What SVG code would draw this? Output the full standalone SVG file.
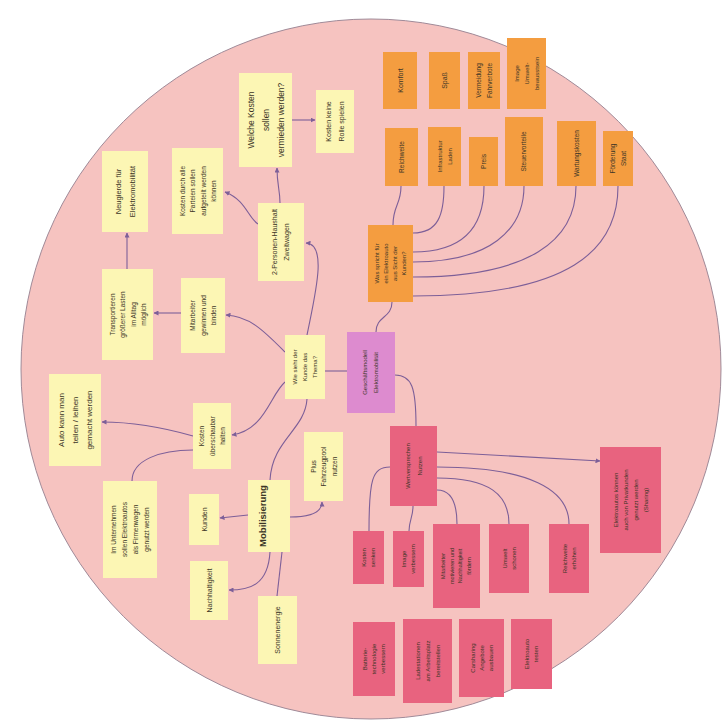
<svg xmlns="http://www.w3.org/2000/svg" width="722" height="728" viewBox="0 0 722 728">
<defs>
<style>
.y{fill:#fcf6b4}
.o{fill:#f49d40}
.p{fill:#dd8bcf}
.r{fill:#e8637f}
.t{font-family:"Liberation Sans",Arial,sans-serif;font-size:6.5px;fill:#3b3526;text-anchor:middle}
.c{fill:none;stroke:#7d5f98;stroke-width:1.1}
.a{marker-end:url(#arr)}
</style>
<marker id="arr" viewBox="0 0 10 10" refX="9" refY="5" markerWidth="5" markerHeight="5" markerUnits="userSpaceOnUse" orient="auto">
<path d="M0,0 L10,5 L0,10 z" fill="#7d5f98"/>
</marker>
</defs>
<rect x="0" y="0" width="722" height="728" fill="#ffffff"/>
<circle cx="371" cy="369" r="350" fill="#f6c3c0" stroke="#a08a98" stroke-width="1"/>

<g id="connectors">
<path class="c" d="M393,225 C393,205 401,205 401,186"/>
<path class="c" d="M413,233 C438,233 444,215 444,186"/>
<path class="c" d="M413,252 C465,252 484,225 484,186"/>
<path class="c" d="M413,262 C490,262 524,230 524,186"/>
<path class="c" d="M413,277 C530,277 576,240 576,186"/>
<path class="c" d="M413,296 C570,296 618,250 618,186"/>
<path class="c" d="M325,371 L347,371"/>
<path class="c" d="M376,332 C376,316 392,318 392,302"/>
<path class="c" d="M395,375 C412,375 416,388 416,426"/>
<path class="c a" d="M437,452 L600,461"/>
<path class="c" d="M437,467 C530,467 569,490 569,524"/>
<path class="c" d="M437,478 C490,478 509,495 509,524"/>
<path class="c" d="M437,490 C452,490 457,505 457,524"/>
<path class="c" d="M390,467 C372,467 369,480 369,531"/>
<path class="c" d="M413,506 C413,518 409,520 409,531"/>
<path class="c a" d="M292,120 L315,120"/>
<path class="c a" d="M280,203 C280,190 277,185 277,168"/>
<path class="c a" d="M258,224 C248,218 246,200 225,192"/>
<path class="c a" d="M307,335 C315,295 328,244 306,243"/>
<path class="c a" d="M285,352 C265,332 250,316 226,315"/>
<path class="c a" d="M181,313 L154,313"/>
<path class="c a" d="M127,269 L127,233"/>
<path class="c a" d="M285,382 C270,395 265,430 232,435"/>
<path class="c a" d="M193,436 C165,428 130,422 102,422"/>
<path class="c" d="M193,450 C160,450 132,460 132,481"/>
<path class="c" d="M307,399 C305,430 272,440 270,480"/>
<path class="c a" d="M248,515 L220,518"/>
<path class="c a" d="M290,517 C310,517 322,512 322,502"/>
<path class="c a" d="M270,552 C268,585 250,590 229,590"/>
<path class="c" d="M282,552 L277,596"/>
</g>

<g id="y1"><rect class="y" x="239" y="73" width="53" height="94"/>
<text class="t" style="font-size:8.5px" transform="translate(265.5,120) rotate(-90)"><tspan x="0" y="-12">Welche Kosten</tspan><tspan x="0" y="3">sollen</tspan><tspan x="0" y="18">vermieden werden?</tspan></text></g>
<g id="y2"><rect class="y" x="316" y="90" width="38" height="63"/>
<text class="t" style="font-size:7px" transform="translate(335,121.5) rotate(-90)"><tspan x="0" y="-4">Kosten keine</tspan><tspan x="0" y="9">Rolle spielen</tspan></text></g>
<g id="y3"><rect class="y" x="102" y="151" width="46" height="81"/>
<text class="t" style="font-size:7.5px" transform="translate(125,191.5) rotate(-90)"><tspan x="0" y="-4.5">Neugierde für</tspan><tspan x="0" y="9.5">Elektromobilität</tspan></text></g>
<g id="y4"><rect class="y" x="172" y="148" width="51" height="86"/>
<text class="t" transform="translate(197.5,191) rotate(-90)"><tspan x="0" y="-13">Kosten durch alle</tspan><tspan x="0" y="-2.5">Parteien sollen</tspan><tspan x="0" y="8">aufgeteilt werden</tspan><tspan x="0" y="18.5">können</tspan></text></g>
<g id="y5"><rect class="y" x="258" y="203" width="46" height="78"/>
<text class="t" style="font-size:7px" transform="translate(281,242) rotate(-90)"><tspan x="0" y="-4">2-Personen-Haushalt</tspan><tspan x="0" y="8">Zweitwagen</tspan></text></g>
<g id="y6"><rect class="y" x="102" y="269" width="51" height="91"/>
<text class="t" transform="translate(127.5,314.5) rotate(-90)"><tspan x="0" y="-13">Transportieren</tspan><tspan x="0" y="-2.5">größerer Lasten</tspan><tspan x="0" y="8">im Alltag</tspan><tspan x="0" y="18.5">möglich</tspan></text></g>
<g id="y7"><rect class="y" x="181" y="278" width="44" height="75"/>
<text class="t" transform="translate(203,315.5) rotate(-90)"><tspan x="0" y="-8">Mitarbeiter</tspan><tspan x="0" y="2.5">gewinnen und</tspan><tspan x="0" y="13">binden</tspan></text></g>
<g id="y8"><rect class="y" x="285" y="335" width="40" height="64"/>
<text class="t" style="font-size:6px" transform="translate(305,367) rotate(-90)"><tspan x="0" y="-8">Wie sieht der</tspan><tspan x="0" y="2">Kunde das</tspan><tspan x="0" y="12">Thema?</tspan></text></g>
<g id="y9"><rect class="y" x="49" y="374" width="52" height="92"/>
<text class="t" style="font-size:8px" transform="translate(75,420) rotate(-90)"><tspan x="0" y="-11">Auto kann man</tspan><tspan x="0" y="3">teilen / leihen</tspan><tspan x="0" y="17">gemacht werden</tspan></text></g>
<g id="y10"><rect class="y" x="193" y="403" width="38" height="66"/>
<text class="t" transform="translate(212,436) rotate(-90)"><tspan x="0" y="-8">Kosten</tspan><tspan x="0" y="2.5">überschaubar</tspan><tspan x="0" y="13">halten</tspan></text></g>
<g id="y11"><rect class="y" x="103" y="481" width="54" height="97"/>
<text class="t" transform="translate(130,529.5) rotate(-90)"><tspan x="0" y="-14">Im Unternehmen</tspan><tspan x="0" y="-3">sollen Elektroautos</tspan><tspan x="0" y="8">als Firmenwagen</tspan><tspan x="0" y="19">genutzt werden</tspan></text></g>
<g id="y12"><rect class="y" x="189" y="494" width="30" height="51"/>
<text class="t" style="font-size:7px" transform="translate(204,519.5) rotate(-90)"><tspan x="0" y="2.5">Kunden</tspan></text></g>
<g id="y13"><rect class="y" x="248" y="480" width="42" height="72"/>
<text class="t" style="font-size:9.5px;font-weight:bold" transform="translate(269,516) rotate(-90)"><tspan x="0" y="-3">Mobilisierung</tspan></text></g>
<g id="y14"><rect class="y" x="304" y="432" width="39" height="69"/>
<text class="t" transform="translate(323.5,466.5) rotate(-90)"><tspan x="0" y="-8">Plus</tspan><tspan x="0" y="2.5">Fahrzeugpool</tspan><tspan x="0" y="13">nutzen</tspan></text></g>
<g id="y15"><rect class="y" x="190" y="561" width="38" height="59"/>
<text class="t" style="font-size:7px" transform="translate(209,590.5) rotate(-90)"><tspan x="0" y="2.5">Nachhaltigkeit</tspan></text></g>
<g id="y16"><rect class="y" x="258" y="596" width="39" height="68"/>
<text class="t" style="font-size:7px" transform="translate(277.5,630) rotate(-90)"><tspan x="0" y="2.5">Sonnenenergie</tspan></text></g>

<g id="o1"><rect class="o" x="383" y="52" width="34" height="57"/>
<text class="t" style="font-size:7px" transform="translate(400,80.5) rotate(-90)"><tspan x="0" y="2.5">Komfort</tspan></text></g>
<g id="o2"><rect class="o" x="429" y="52" width="31" height="57"/>
<text class="t" style="font-size:7px" transform="translate(444.5,80.5) rotate(-90)"><tspan x="0" y="2.5">Spaß</tspan></text></g>
<g id="o3"><rect class="o" x="468" y="52" width="32" height="57"/>
<text class="t" transform="translate(484,80.5) rotate(-90)"><tspan x="0" y="-3">Vermeidung</tspan><tspan x="0" y="8">Fahrverbote</tspan></text></g>
<g id="o4"><rect class="o" x="507" y="38" width="39" height="71"/>
<text class="t" style="font-size:6px" transform="translate(526.5,73.5) rotate(-90)"><tspan x="0" y="-8">Image</tspan><tspan x="0" y="2">Umwelt-</tspan><tspan x="0" y="12">bewusstsein</tspan></text></g>
<g id="o5"><rect class="o" x="385" y="128" width="33" height="58"/>
<text class="t" transform="translate(401.5,157) rotate(-90)"><tspan x="0" y="2.3">Reichweite</tspan></text></g>
<g id="o6"><rect class="o" x="428" y="127" width="33" height="59"/>
<text class="t" style="font-size:6px" transform="translate(444.5,156.5) rotate(-90)"><tspan x="0" y="-3">Infrastruktur</tspan><tspan x="0" y="7">Laden</tspan></text></g>
<g id="o7"><rect class="o" x="469" y="137" width="29" height="49"/>
<text class="t" transform="translate(483.5,161.5) rotate(-90)"><tspan x="0" y="2.3">Preis</tspan></text></g>
<g id="o8"><rect class="o" x="505" y="117" width="38" height="69"/>
<text class="t" transform="translate(524,151.5) rotate(-90)"><tspan x="0" y="2.3">Steuervorteile</tspan></text></g>
<g id="o9"><rect class="o" x="557" y="121" width="39" height="65"/>
<text class="t" transform="translate(576.5,153.5) rotate(-90)"><tspan x="0" y="2.3">Wartungskosten</tspan></text></g>
<g id="o10"><rect class="o" x="603" y="131" width="30" height="55"/>
<text class="t" transform="translate(618,158.5) rotate(-90)"><tspan x="0" y="-3">Förderung</tspan><tspan x="0" y="7.5">Staat</tspan></text></g>
<g id="o11"><rect class="o" x="368" y="225" width="45" height="77"/>
<text class="t" style="font-size:6px" transform="translate(390.5,263.5) rotate(-90)"><tspan x="0" y="-11.5">Was spricht für</tspan><tspan x="0" y="-2.5">ein Elektroauto</tspan><tspan x="0" y="6.5">aus Sicht der</tspan><tspan x="0" y="15.5">Kunden?</tspan></text></g>

<g id="p1"><rect class="p" x="347" y="332" width="48" height="81"/>
<text class="t" style="font-size:6px" transform="translate(371,372.5) rotate(-90)"><tspan x="0" y="-4">Geschäftsmodell</tspan><tspan x="0" y="7">Elektromobilität</tspan></text></g>

<g id="r1"><rect class="r" x="390" y="426" width="47" height="80"/>
<text class="t" style="font-size:6px" transform="translate(413.5,466) rotate(-90)"><tspan x="0" y="-4">Wertversprechen</tspan><tspan x="0" y="8">Nutzen</tspan></text></g>
<g id="r2"><rect class="r" x="600" y="447" width="61" height="106"/>
<text class="t" style="font-size:6px" transform="translate(630.5,500) rotate(-90)"><tspan x="0" y="-13">Elektroautos können</tspan><tspan x="0" y="-3">auch von Privatkunden</tspan><tspan x="0" y="7">genutzt werden</tspan><tspan x="0" y="17">(Sharing)</tspan></text></g>
<g id="r3"><rect class="r" x="353" y="531" width="31" height="53"/>
<text class="t" style="font-size:6px" transform="translate(368.5,557.5) rotate(-90)"><tspan x="0" y="-2.5">Kosten</tspan><tspan x="0" y="6.5">senken</tspan></text></g>
<g id="r4"><rect class="r" x="393" y="531" width="31" height="56"/>
<text class="t" style="font-size:6px" transform="translate(408.5,559) rotate(-90)"><tspan x="0" y="-2.5">Image</tspan><tspan x="0" y="6.5">verbessern</tspan></text></g>
<g id="r5"><rect class="r" x="433" y="524" width="47" height="84"/>
<text class="t" style="font-size:5.5px" transform="translate(456.5,566) rotate(-90)"><tspan x="0" y="-11.5">Mitarbeiter</tspan><tspan x="0" y="-3">motivieren und</tspan><tspan x="0" y="5.5">Nachhaltigkeit</tspan><tspan x="0" y="14">fördern</tspan></text></g>
<g id="r6"><rect class="r" x="489" y="524" width="40" height="69"/>
<text class="t" style="font-size:6px" transform="translate(509,558.5) rotate(-90)"><tspan x="0" y="-2.5">Umwelt</tspan><tspan x="0" y="6.5">schonen</tspan></text></g>
<g id="r7"><rect class="r" x="549" y="524" width="40" height="69"/>
<text class="t" style="font-size:6px" transform="translate(569,558.5) rotate(-90)"><tspan x="0" y="-2.5">Reichweite</tspan><tspan x="0" y="6.5">erhöhen</tspan></text></g>
<g id="r8"><rect class="r" x="353" y="622" width="42" height="74"/>
<text class="t" style="font-size:6px" transform="translate(374,659) rotate(-90)"><tspan x="0" y="-7">Batterie-</tspan><tspan x="0" y="2">technologie</tspan><tspan x="0" y="11">verbessern</tspan></text></g>
<g id="r9"><rect class="r" x="403" y="619" width="49" height="84"/>
<text class="t" style="font-size:6px" transform="translate(427.5,661) rotate(-90)"><tspan x="0" y="-8">Ladestationen</tspan><tspan x="0" y="2">am Arbeitsplatz</tspan><tspan x="0" y="12">bereitstellen</tspan></text></g>
<g id="r10"><rect class="r" x="459" y="619" width="45" height="78"/>
<text class="t" style="font-size:6px" transform="translate(481.5,658) rotate(-90)"><tspan x="0" y="-7">Carsharing</tspan><tspan x="0" y="2">Angebote</tspan><tspan x="0" y="11">ausbauen</tspan></text></g>
<g id="r11"><rect class="r" x="511" y="619" width="41" height="70"/>
<text class="t" style="font-size:6px" transform="translate(531.5,654) rotate(-90)"><tspan x="0" y="-2.5">Elektroauto</tspan><tspan x="0" y="6.5">testen</tspan></text></g>
</svg>
